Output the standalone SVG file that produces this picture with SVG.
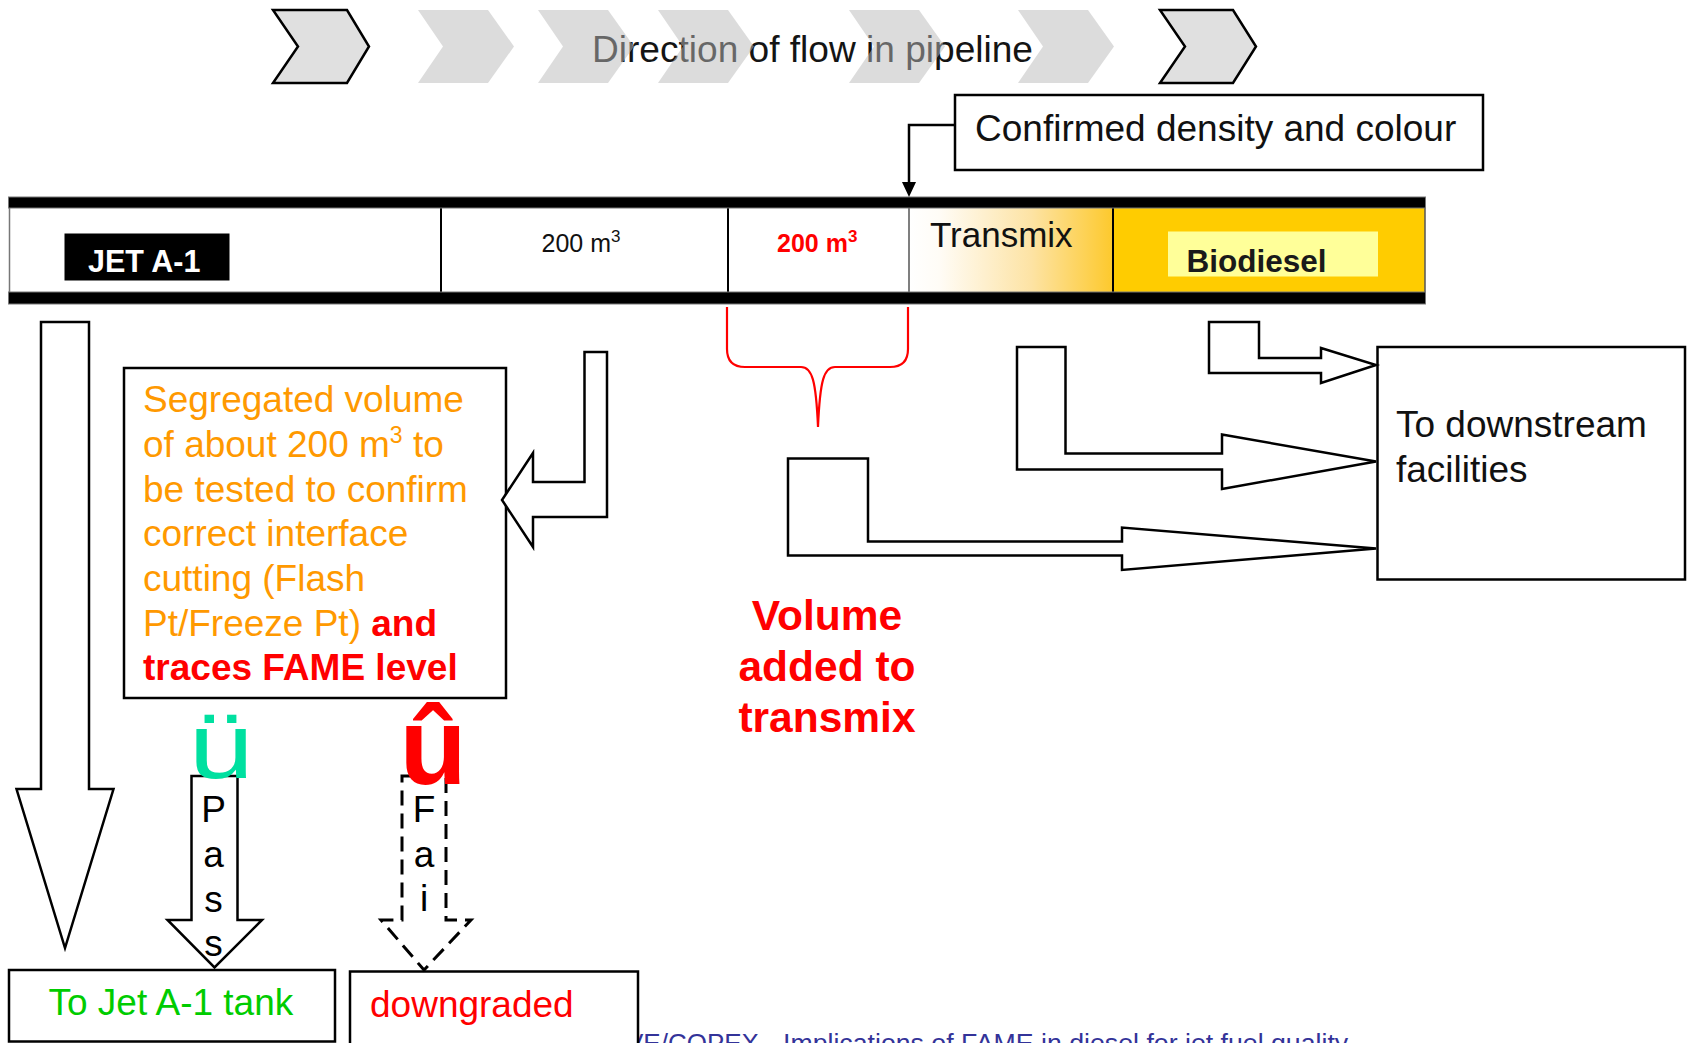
<svg xmlns="http://www.w3.org/2000/svg" width="1688" height="1043" viewBox="0 0 1688 1043">
<defs>
<linearGradient id="tmx" x1="0" y1="0" x2="1" y2="0">
<stop offset="0" stop-color="#ffffff"/>
<stop offset="0.15" stop-color="#fffcf6"/>
<stop offset="0.6" stop-color="#fde3a4"/>
<stop offset="1" stop-color="#fdc92c"/>
</linearGradient>
<style>
text{font-family:"Liberation Sans",Arial,Helvetica,sans-serif}
.box{fill:#fff;stroke:#000;stroke-width:2.5}
.arr{fill:#fff;stroke:#000;stroke-width:2.5;stroke-linejoin:miter}
.dash{fill:none;stroke:#000;stroke-width:3;stroke-dasharray:15 8}
.chev{fill:#b9b9b9;fill-opacity:0.5}
.chevo{fill:#e0e0e0;stroke:#000;stroke-width:2.5;stroke-linejoin:miter}
.org{fill:#ff9900}
.red{fill:#ff0000}
.div{stroke:#000;stroke-width:2}
.band{fill:#000;stroke:#777;stroke-width:1}
.vol{font-size:42.5px;font-weight:bold;fill:#ff0000;text-anchor:middle}
.ltr{font-size:37px;fill:#000;text-anchor:middle}
</style>
</defs>
<rect width="1688" height="1043" fill="#fff"/>

<g id="direction-banner">
<polygon class="chevo" points="273,10 347,10 369,46.5 347,83 273,83 298,46.5"/>
<polygon class="chevo" points="1160,10 1233,10 1256,46.5 1233,83 1160,83 1185,46.5"/>
<text x="592" y="62" font-size="36" fill="#141414" textLength="441" lengthAdjust="spacingAndGlyphs">Direction of flow in pipeline</text>
<polygon class="chev" points="418,10 488,10 514,46.5 488,83 418,83 443,46.5"/>
<polygon class="chev" points="538,10 608,10 634,46.5 608,83 538,83 563,46.5"/>
<polygon class="chev" points="658,10 728,10 754,46.5 728,83 658,83 683,46.5"/>
<polygon class="chev" points="849,10 919,10 945,46.5 919,83 849,83 874,46.5"/>
<polygon class="chev" points="1018,10 1088,10 1114,46.5 1088,83 1018,83 1043,46.5"/>
</g>

<g id="cell-jet">
<rect x="9" y="208" width="432" height="84" fill="#fff"/>
<rect x="64.5" y="233.5" width="165" height="47" fill="#000"/>
<text x="88" y="272" font-size="30.5" font-weight="bold" fill="#fff">JET A-1</text>
</g>
<g id="cell-200">
<rect x="441" y="208" width="287" height="84" fill="#fff"/>
<text x="541.5" y="252" font-size="25" fill="#111">200 m<tspan font-size="17" dy="-10">3</tspan></text>
</g>
<g id="cell-200-red">
<rect x="728" y="208" width="181" height="84" fill="#fff"/>
<text x="777" y="252" font-size="25" font-weight="bold" fill="#ff0000">200 m<tspan font-size="17" dy="-10">3</tspan></text>
</g>
<g id="cell-transmix">
<rect x="909" y="208" width="204" height="84" fill="url(#tmx)"/>
<text x="930" y="247" font-size="35" fill="#111">Transmix</text>
</g>
<g id="cell-biodiesel">
<rect x="1113" y="208" width="312" height="84" fill="#ffcc00"/>
<rect x="1168" y="231.5" width="210" height="45" fill="#ffff99"/>
<text x="1186.5" y="271.5" font-size="31.5" font-weight="bold" fill="#1a1a1a">Biodiesel</text>
</g>
<g id="pipeline-walls">
<line class="div" x1="441" y1="208" x2="441" y2="292"/>
<line class="div" x1="728" y1="208" x2="728" y2="292"/>
<line x1="909" y1="208" x2="909" y2="292" stroke="#555" stroke-width="1.5"/>
<line class="div" x1="1113" y1="208" x2="1113" y2="292"/>
<line x1="9.5" y1="208" x2="9.5" y2="292" stroke="#777" stroke-width="1.5"/>
<line x1="1425" y1="208" x2="1425" y2="292" stroke="#555" stroke-width="1.5"/>
<rect class="band" x="8.5" y="197" width="1417" height="11"/>
<rect class="band" x="8.5" y="292" width="1417" height="12"/>
</g>

<g id="confirmed">
<rect class="box" x="955" y="95" width="528" height="75"/>
<text x="975" y="141" font-size="37" fill="#111">Confirmed density and colour</text>
</g>

<g id="segregated">
<rect class="box" x="124" y="368" width="382" height="330"/>
<text font-size="37" class="org"><tspan x="143" y="412">Segregated volume</tspan><tspan x="143" y="456.5">of about 200 m<tspan font-size="23" dy="-14">3</tspan><tspan dy="14"> to</tspan></tspan><tspan x="143" y="501.5">be tested to confirm</tspan><tspan x="143" y="546">correct interface</tspan><tspan x="143" y="591">cutting (Flash</tspan><tspan x="143" y="635.5">Pt/Freeze Pt) <tspan class="red" font-weight="bold">and</tspan></tspan><tspan x="143" y="680" class="red" font-weight="bold">traces FAME level</tspan></text>
</g>

<g id="volume-label">
<text class="vol" x="827" y="630">Volume</text>
<text class="vol" x="827" y="681">added to</text>
<text class="vol" x="827" y="731.5">transmix</text>
</g>

<g id="downstream">
<rect class="box" x="1377.5" y="347" width="307.5" height="232.5"/>
<text x="1396" y="436.5" font-size="37" fill="#111">To downstream</text>
<text x="1396" y="481.5" font-size="37" fill="#111">facilities</text>
</g>

<g id="footer">
<text y="1052" font-size="26" fill="#333399"><tspan x="626">VE/COPEX –</tspan><tspan x="783" font-size="26.7">Implications of FAME in diesel for jet fuel quality</tspan></text>
</g>

<g id="jet-tank">
<rect class="box" x="9" y="970" width="326" height="71.5"/>
<text x="48.5" y="1015" font-size="37" fill="#00cc00">To Jet A-1 tank</text>
</g>

<g id="downgraded">
<rect class="box" x="350" y="971.5" width="288" height="80"/>
<text x="370" y="1016.5" font-size="37" fill="#ff0000">downgraded</text>
</g>

<g id="connectors">
<polyline points="955,125 909,125 909,183" fill="none" stroke="#000" stroke-width="2.5"/>
<polygon points="902,182 916,182 909,197" fill="#000"/>
<polygon class="arr" points="584.5,352 607,352 607,517 533,517 533,547 502,500 533,453 533,482 584.5,482"/>
<path d="M727,307 V349 Q727,367 745,367 H801 C812,367 816,380 818,427 C820,380 824,367 835,367 H890 Q908,367 908,349 V307" fill="none" stroke="#ff0000" stroke-width="2.2"/>
<polygon class="arr" points="1209,322 1259,322 1259,358 1321,358 1321,348 1376,365 1321,383 1321,373 1209,373"/>
<polygon class="arr" points="1017,347 1065.5,347 1065.5,453.5 1222,453.5 1222,434.5 1376,461.5 1222,489 1222,469.5 1017,469.5"/>
<polygon class="arr" points="788,458.5 868,458.5 868,541.5 1122,541.5 1122,527.5 1376,548.5 1122,570 1122,555.5 788,555.5"/>
<polygon class="arr" points="41,322 89,322 89,789 113.5,789 65,948 16.5,789 41,789"/>
<polygon class="arr" points="191.5,776 237.5,776 237.5,920 262,920 214.5,967.5 167.5,920 191.5,920"/>
<polygon class="dash" points="402,776 446,776 446,920 471,920 424,970 381,920 402,920"/>
<text class="ltr" x="213.5" y="822">P</text>
<text class="ltr" x="213.5" y="866.5">a</text>
<text class="ltr" x="213.5" y="911.5">s</text>
<text class="ltr" x="213.5" y="956">s</text>
<text class="ltr" x="424" y="822">F</text>
<text class="ltr" x="424" y="866.5">a</text>
<text class="ltr" x="424" y="911">i</text>
<text transform="translate(221,778) scale(1.27,1)" font-size="92" fill="#00e0a0" text-anchor="middle">ü</text>
<text x="433" y="784" font-size="110" font-weight="bold" fill="#ff0000" text-anchor="middle">û</text>
</g>
</svg>
